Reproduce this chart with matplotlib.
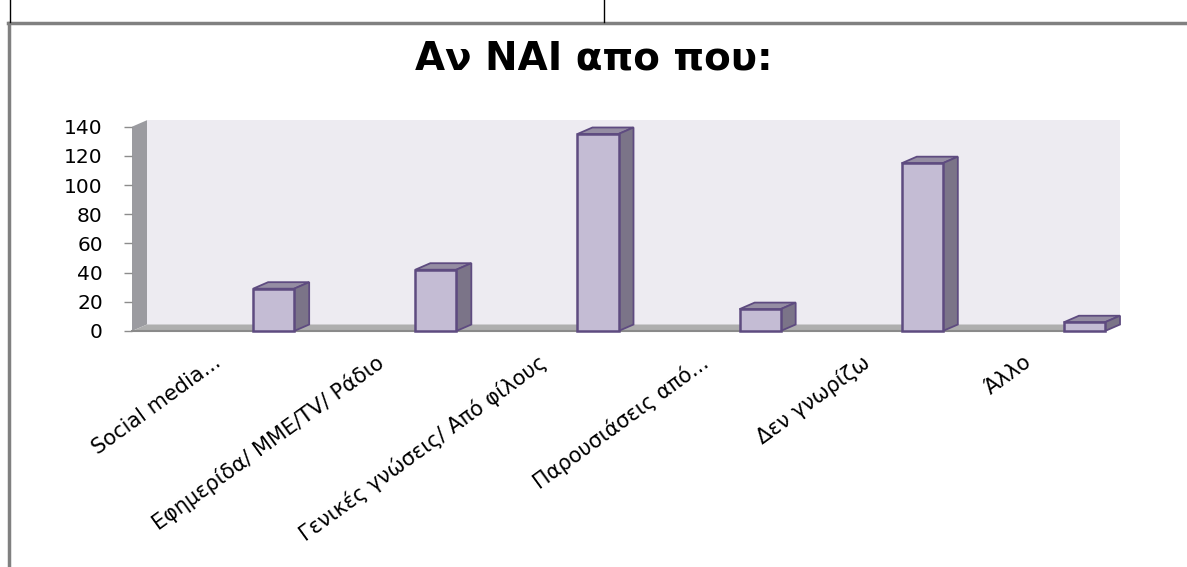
import matplotlib.pyplot as plt
from matplotlib.patches import Polygon
from matplotlib.lines import Line2D

categories = ["Social media...", "Εφημερίδα/ ΜΜΕ/TV/ Ράδιο", "Γενικές γνώσεις/ Από φίλους",
              "Παρουσιάσεις από...", "Δεν γνωρίζω", "Άλλο"]
values = [29, 42, 135, 15, 115, 6]
yticks = [0, 20, 40, 60, 80, 100, 120, 140]
title = "Αν ΝΑΙ απο που:"

plt.rcParams["font.family"] = ["DejaVu Sans"]

W, H = 1187, 567
fig = plt.figure(figsize=(W / 100, H / 100), dpi=100)

# front plane of the 3d box, in pixels: x 132..1105, y 331 (0) .. 126.7 (140)
ax = fig.add_axes([132 / W, (H - 331) / H, (1105 - 132) / W, (331 - 126.7) / H])
n = len(categories)
ax.set_xlim(-0.5, n - 0.5)
ax.set_ylim(0, 140)
ax.set_facecolor("none")
for s in ax.spines.values():
    s.set_visible(False)

# depth offset (about 15 px right, 6.5 px up) in data units
dx = 15 / ((1105 - 132) / n)
dy = 6.5 / ((331 - 126.7) / 140)
x0, x1 = -0.5, n - 0.5

# walls and floor
back = Polygon([(x0 + dx, dy), (x1 + dx, dy), (x1 + dx, 140 + dy), (x0 + dx, 140 + dy)],
               closed=True, fc="#EDEBF1", ec="none", zorder=0, clip_on=False)
left = Polygon([(x0, 0), (x0, 140), (x0 + dx, 140 + dy), (x0 + dx, dy)],
               closed=True, fc="#9B9BA0", ec="none", zorder=1, clip_on=False)
floor = Polygon([(x0, 0), (x1, 0), (x1 + dx, dy), (x0 + dx, dy)],
                closed=True, fc="#AEAEAE", ec="none", zorder=1, clip_on=False)
for p in (back, left, floor):
    ax.add_patch(p)
ax.plot([x0, x1], [0, 0], color="#8A8A8A", lw=1.5, zorder=1, clip_on=False)

# bars: front face + top + side
bw = 41 / 162
edge = "#5E4B80"
lefts = [i + 0.5 - bw for i in range(n)]
ax.bar(lefts, values, width=bw, align="edge", color="#C4BCD4", edgecolor=edge,
       linewidth=1.8, zorder=4, clip_on=False)
for l, v in zip(lefts, values):
    top = Polygon([(l, v), (l + bw, v), (l + bw + dx, v + dy), (l + dx, v + dy)],
                  closed=True, fc="#958DA3", ec=edge, lw=1.3, zorder=3, clip_on=False)
    side = Polygon([(l + bw, 0), (l + bw + dx, dy), (l + bw + dx, v + dy), (l + bw, v)],
                   closed=True, fc="#7B7488", ec=edge, lw=1.3, zorder=3, clip_on=False)
    ax.add_patch(top)
    ax.add_patch(side)

ax.set_yticks(yticks)
ax.tick_params(axis="y", length=6, width=1, color="#8C8C8C", pad=15, labelsize=14.5)
ax.set_xticks(range(n))
ax.set_xticklabels(categories, rotation=36, ha="right", va="top", rotation_mode="anchor",
                   fontsize=15)
ax.tick_params(axis="x", length=0, pad=15)

fig.text(0.5, 1 - 58 / H, title, ha="center", va="center", fontsize=28,
         fontweight="bold")

# surrounding frame lines
fig.add_artist(Line2D([8 / W, 1], [1 - 23 / H, 1 - 23 / H], color="#808080", lw=2.5))
fig.add_artist(Line2D([9 / W, 9 / W], [0, 1 - 23 / H], color="#808080", lw=2.5))
fig.add_artist(Line2D([10 / W, 10 / W], [1, 1 - 22 / H], color="black", lw=1))
fig.add_artist(Line2D([604 / W, 604 / W], [1, 1 - 22 / H], color="black", lw=1))

fig.savefig("out.png", dpi=100)
